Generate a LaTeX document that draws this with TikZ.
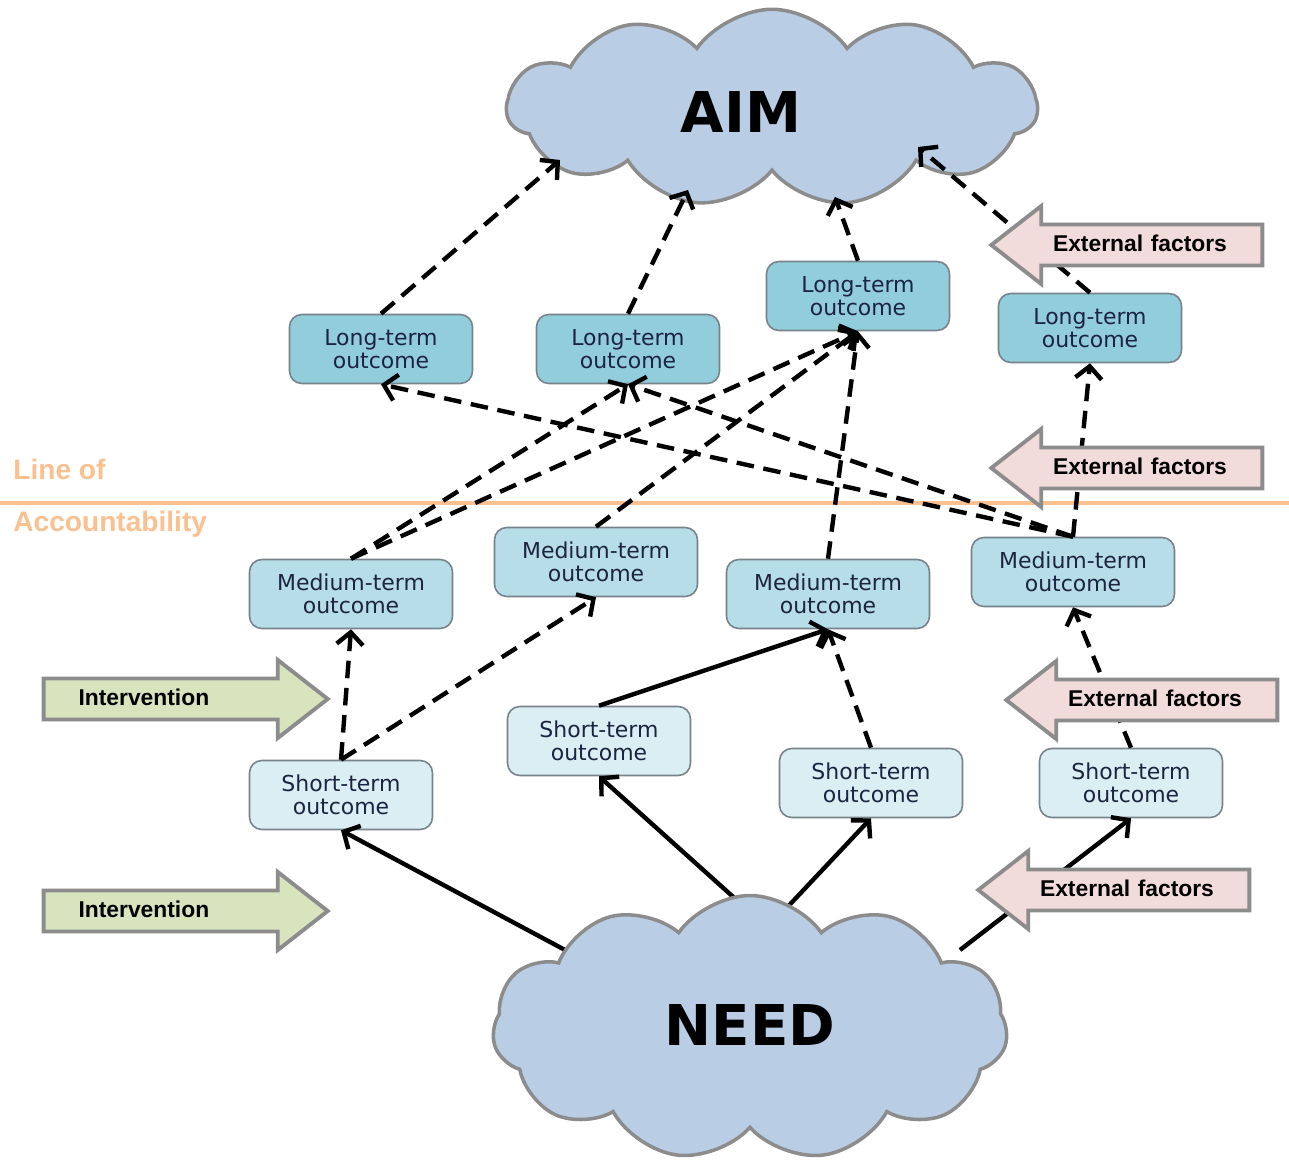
\documentclass[tikz,border=0pt]{standalone}
\usepackage{fontspec}
\setmainfont{DejaVu Sans}
\newfontfamily\arialfont{Liberation Sans}
\usetikzlibrary{shapes.symbols,shapes.arrows,arrows.meta}

\definecolor{ltfill}{HTML}{92CDDC}
\definecolor{mtfill}{HTML}{B7DDE8}
\definecolor{stfill}{HTML}{DBEEF4}
\definecolor{cloudfill}{HTML}{B9CDE5}
\definecolor{shapegray}{HTML}{8C8C8C}
\definecolor{boxgray}{HTML}{76838B}
\definecolor{interfill}{HTML}{D7E4BD}
\definecolor{extfill}{HTML}{F2DCDB}
\definecolor{lineorange}{HTML}{FAC090}
\definecolor{boxtext}{HTML}{1C2440}

\tikzset{
  outcome/.style={draw=boxgray, line width=0.9pt, rounded corners=7pt,
    minimum width=3.66cm, minimum height=1.38cm, inner sep=0pt,
    align=center, text=boxtext, font=\fontsize{12.5}{13.3}\selectfont},
  longterm/.style={outcome, fill=ltfill},
  medterm/.style={outcome, fill=mtfill, minimum width=4.06cm},
  shortterm/.style={outcome, fill=stfill},
  bubble/.style={cloud, cloud puffs=11, cloud puff arc=110, cloud ignores aspect,
    draw=shapegray, line width=2pt, fill=cloudfill},
  bigword/.style={font=\fontsize{32}{36}\selectfont\bfseries},
  link/.style={line width=2.5pt, -{Straight Barb[length=7pt,width=15pt]}},
  dlink/.style={link, dash pattern=on 10pt off 5.5pt},
  blockarrow/.style={single arrow, draw=shapegray, line width=2.2pt,
    single arrow head extend=0.37cm, single arrow tip angle=76,
    font=\arialfont\fontsize{13}{14}\selectfont\bfseries,
    text height=9.5pt, text depth=2.5pt, inner ysep=4.6pt},
  intervention/.style={blockarrow, fill=interfill, text width=3.76cm,
    inner xsep=0.66cm, align=left},
  external/.style={blockarrow, fill=extfill, shape border rotate=180,
    text width=4.22cm, inner xsep=0.3cm, align=center},
  accline/.style={lineorange, font=\arialfont\fontsize{16}{17}\selectfont\bfseries}
}

\begin{document}
\begin{tikzpicture}[x=0.02cm, y=-0.02cm]
  \useasboundingbox (0,0) rectangle (1289,1165);

  % line of accountability
  \draw[lineorange, line width=2.3pt] (0,503) -- (1289,503);
  \node[accline, anchor=base west, inner sep=0pt] (lineof) at (13,480) {Line of};
  \node[accline, anchor=base west, inner sep=0pt] (account) at (13,532) {Accountability};

  % aim
  \node[bubble, minimum width=10.6cm, minimum height=3.95cm] (aim) at (772,108) {};
  \node[bigword] (aimlabel) at (741,112) {AIM};
  \coordinate (aim1) at (560,160);
  \coordinate (aim2) at (688,190);
  \coordinate (aim3) at (835,197);
  \coordinate (aim4) at (918,147);

  % outcomes
  \node[longterm] (lt1) at (381,349) {Long-term\\outcome};
  \node[longterm] (lt2) at (628,349) {Long-term\\outcome};
  \node[longterm] (lt3) at (858,296) {Long-term\\outcome};
  \node[longterm] (lt4) at (1090,328) {Long-term\\outcome};

  \node[medterm] (mt1) at (351,594) {Medium-term\\outcome};
  \node[medterm] (mt2) at (596,562) {Medium-term\\outcome};
  \node[medterm] (mt3) at (828,594) {Medium-term\\outcome};
  \node[medterm] (mt4) at (1073,572) {Medium-term\\outcome};

  \node[shortterm] (st1) at (341,795) {Short-term\\outcome};
  \node[shortterm] (st2) at (599,741) {Short-term\\outcome};
  \node[shortterm] (st3) at (871,783) {Short-term\\outcome};
  \node[shortterm] (st4) at (1131,783) {Short-term\\outcome};

  % long-term to aim
  \draw[dlink] (lt1.north) -- (aim1);
  \draw[dlink] (lt2.north) -- (aim2);
  \draw[dlink] (lt3.north) -- (aim3);
  \draw[dlink] (lt4.north) -- (aim4);

  % medium-term to long-term
  \draw[dlink] (mt1.north) -- (lt2.south);
  \draw[dlink] (mt1.north) -- (lt3.south);
  \draw[dlink] (mt2.north) -- (lt3.south);
  \draw[dlink] (mt3.north) -- (lt3.south);
  \draw[dlink] (mt4.north) -- (lt1.south);
  \draw[dlink] (mt4.north) -- (lt2.south);
  \draw[dlink] (mt4.north) -- (lt4.south);

  % short-term to medium-term
  \draw[dlink] (st1.north) -- (mt1.south);
  \draw[dlink] (st1.north) -- (mt2.south);
  \draw[link] (st2.north) -- (mt3.south);
  \draw[dlink] (st3.north) -- (mt3.south);
  \draw[dlink] (st4.north) -- (mt4.south);

  % need to short-term
  \coordinate (need1) at (580,958);
  \coordinate (need2) at (770,930);
  \coordinate (need3) at (780,915);
  \coordinate (need4) at (960,950);
  \draw[link] (need1) -- (st1.south);
  \draw[link] (need2) -- (st2.south);
  \draw[link] (need3) -- (st3.south);
  \draw[link] (need4) -- (st4.south);
  \node[bubble, minimum width=10.3cm, minimum height=5.3cm] (need) at (750,1028) {};
  \node[bigword] (needlabel) at (750,1025) {NEED};

  % interventions and external factors
  \node[intervention] (int1) at (172.5,699) {Intervention};
  \node[intervention] (int2) at (172.5,911) {Intervention};
  \node[external] (ext1) at (1140,245) {External factors};
  \node[external] (ext2) at (1140,468) {External factors};
  \node[external] (ext3) at (1155,700) {External factors};
  \node[external] (ext4) at (1127,890) {External factors};
\end{tikzpicture}
\end{document}
